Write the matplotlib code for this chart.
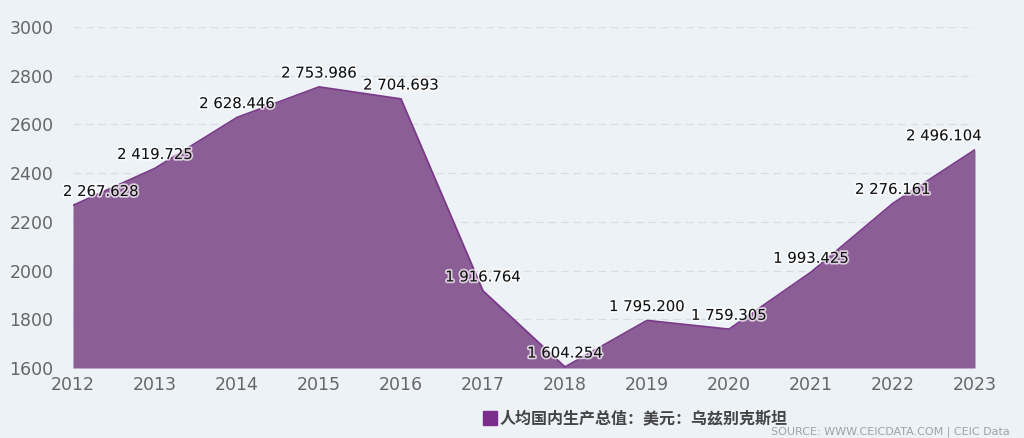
import matplotlib.pyplot as plt
import matplotlib.patheffects as pe

# data
years = [2012, 2013, 2014, 2015, 2016, 2017, 2018, 2019, 2020, 2021, 2022, 2023]
gdp_pc = [2267.628, 2419.725, 2628.446, 2753.986, 2704.693, 1916.764,
          1604.254, 1795.200, 1759.305, 1993.425, 2276.161, 2496.104]
yticks = [1600, 1800, 2000, 2200, 2400, 2600, 2800, 3000]
series_name = "人均国内生产总值：美元：乌兹别克斯坦"
source = "SOURCE: WWW.CEICDATA.COM | CEIC Data"

bg = "#edf2f7"
plt.rcParams['font.family'] = ['DejaVu Sans', 'Noto Sans CJK SC']

fig = plt.figure(figsize=(10.24, 4.38), dpi=100, facecolor=bg)
ax = fig.add_axes([73 / 1024, 70 / 438, 902 / 1024, 341 / 438], facecolor=bg)

ax.fill_between(years, gdp_pc, 1600, color="#8b5e96", lw=0, zorder=2)
ax.plot(years, gdp_pc, color="#7a3a8a", lw=1.3, zorder=3)

ax.set_xlim(2012, 2023)
ax.set_ylim(1600, 3000)
ax.set_yticks(yticks)
ax.set_xticks(years)
ax.grid(axis="y", color="#d8dde3", linestyle=(0, (6, 4)), lw=0.9, zorder=1)
for s in ax.spines.values():
    s.set_visible(False)
ax.tick_params(length=0, labelsize=12.5, colors="#666666")
ax.tick_params(axis="y", pad=14)
ax.tick_params(axis="x", pad=6)

# data labels
for i, (x, y) in enumerate(zip(years, gdp_pc)):
    txt = f"{y:,.3f}".replace(",", " ")
    dx = 0
    if i == 0:
        dx = 0.34
    elif i == len(years) - 1:
        dx = -0.38
    ax.annotate(txt, (x + dx, y), xytext=(0, 10), textcoords="offset points",
                ha="center", va="center", fontsize=10.7, color="#111111", zorder=5,
                path_effects=[pe.withStroke(linewidth=2.5, foreground="white", alpha=0.7)])

# legend
fig.patches.append(plt.Rectangle((483 / 1024, 13 / 438), 14 / 1024, 14 / 438,
                                 transform=fig.transFigure, color="#7b2d8b"))
fig.text(500 / 1024, 20 / 438, series_name, fontsize=11.5, color="#444444",
         fontweight="bold", va="center", family=['Noto Sans CJK SC', 'DejaVu Sans'])
fig.text(1010 / 1024, 6 / 438, source, fontsize=8, color="#9aa3ad", ha="right", va="center")

fig.savefig("out.png", dpi=100, facecolor=bg)
